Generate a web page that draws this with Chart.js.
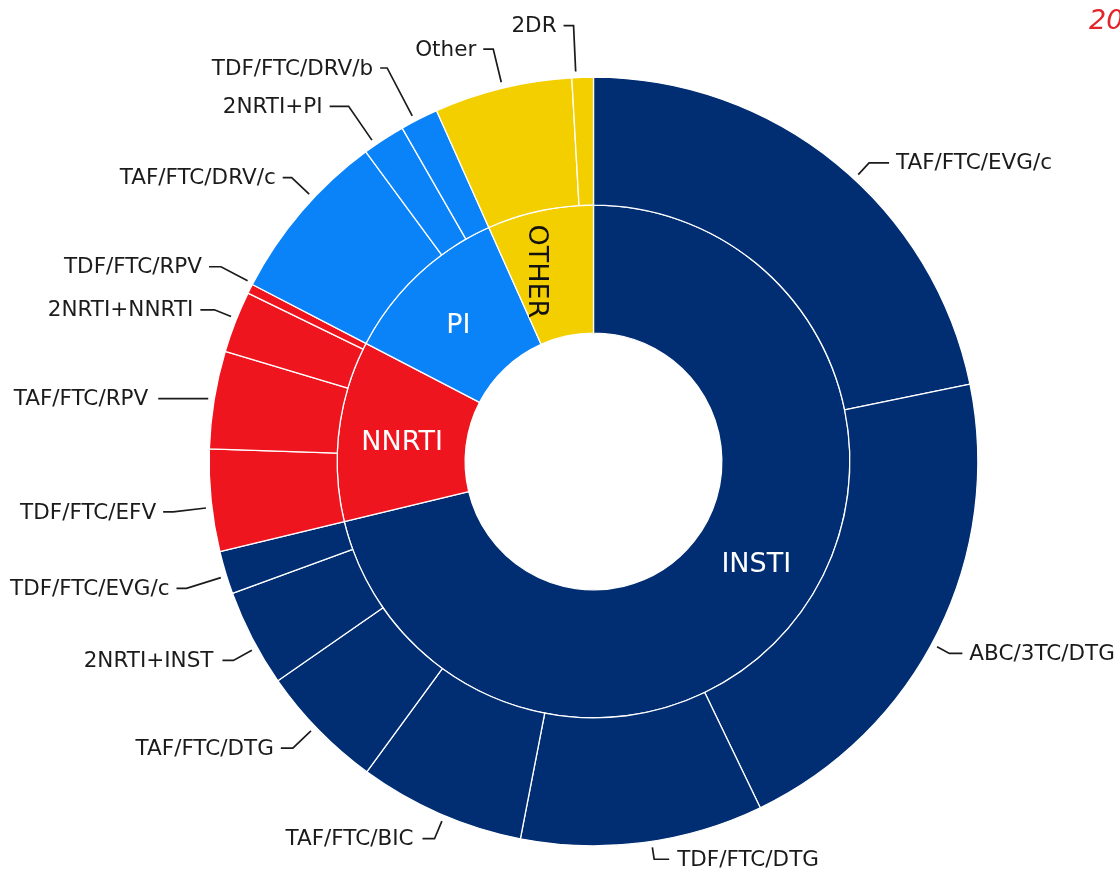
<!DOCTYPE html>
<html>
<head>
<meta charset="utf-8">
<title>Regimens sunburst</title>
<script src="https://cdn.jsdelivr.net/npm/chart.js@4/dist/chart.umd.min.js"></script>
<style>
  html, body { margin: 0; padding: 0; background: #fff; }
  #wrap { width: 1120px; height: 874px; position: relative; }
</style>
</head>
<body>
<div id="wrap"><canvas id="chart"></canvas></div>
<script>
// regimen shares (%), clockwise from 12 o'clock
const regimens = [
  'TAF/FTC/EVG/c', 'ABC/3TC/DTG', 'TDF/FTC/DTG', 'TAF/FTC/BIC', 'TAF/FTC/DTG', '2NRTI+INST', 'TDF/FTC/EVG/c',
  'TDF/FTC/EFV', 'TAF/FTC/RPV', '2NRTI+NNRTI', 'TDF/FTC/RPV',
  'TAF/FTC/DRV/c', '2NRTI+PI', 'TDF/FTC/DRV/b',
  'Other', '2DR',
];
const shares = [21.8, 21.1, 10.2, 7.0, 5.3, 4.1, 1.8, 4.3, 4.1, 2.6, 0.4, 7.3, 1.8, 1.6, 5.8, 0.9];
const regimenClass = [
  'INSTI', 'INSTI', 'INSTI', 'INSTI', 'INSTI', 'INSTI', 'INSTI',
  'NNRTI', 'NNRTI', 'NNRTI', 'NNRTI',
  'PI', 'PI', 'PI',
  'OTHER', 'OTHER',
];
const classes = ['INSTI', 'NNRTI', 'PI', 'OTHER'];
const yearLabel = '2020';

const classColors = { INSTI: '#012d72', NNRTI: '#ee151f', PI: '#0b83f8', OTHER: '#f4cf00' };
const classText = { INSTI: '#ffffff', NNRTI: '#ffffff', PI: '#ffffff', OTHER: '#111111' };

// inner ring = sum of its regimens
const classTotals = classes.map((c) =>
  shares.reduce((sum, v, i) => (regimenClass[i] === c ? sum + v : sum), 0)
);

// leader lines: [elbow distance beyond ring, angle nudge in deg, horizontal run, text gap]
const leaderSpec = [
  [22, 3.5, 20, 7], [20, 2, 13, 7], [18, -1.3, 15, 8], [25, -0.7, 12, 9], [31, 0.7, 12, 7], [27, -1.5, 11, 9], [42, -0.5, 10, 7],
  [39, -1, 10, 7], [6, 0, 50, 10], [24, 0.5, 14, 7], [36, 0.9, 12, 7],
  [30, 2.7, 9, 7], [47, -1.5, 19, 7], [60, -0.7, 7, 7],
  [40, 0, 10, 7], [52, -1, 10, 7],
];
// inner labels: [angle nudge in deg, radial shift]
const innerSpec = [[-6, 0], [-1, 0], [-1.3, 0], [-4.5, 6]];

const toRad = (d) => (d * Math.PI) / 180;

const sunburstLabels = {
  id: 'sunburstLabels',
  afterDatasetsDraw(chart) {
    const { ctx } = chart;
    const props = ['x', 'y', 'startAngle', 'endAngle', 'innerRadius', 'outerRadius'];
    ctx.save();

    // outer ring: leader line + label
    ctx.strokeStyle = '#1b1b1b';
    ctx.fillStyle = '#1b1b1b';
    ctx.lineWidth = 1.7;
    ctx.font = '21.5px "DejaVu Sans"';
    ctx.textBaseline = 'middle';
    chart.getDatasetMeta(0).data.forEach((arc, i) => {
      const { x, y, startAngle, endAngle, outerRadius } = arc.getProps(props, true);
      const [ext, nudge, run, gap] = leaderSpec[i];
      const a = (startAngle + endAngle) / 2 + toRad(nudge);
      const r0 = outerRadius + 6;
      const r1 = outerRadius + ext;
      const dir = Math.cos(a) >= 0 ? 1 : -1;
      const ex = x + Math.cos(a) * r1;
      const ey = y + Math.sin(a) * r1;
      ctx.beginPath();
      ctx.moveTo(x + Math.cos(a) * r0, y + Math.sin(a) * r0);
      ctx.lineTo(ex, ey);
      ctx.lineTo(ex + dir * run, ey);
      ctx.stroke();
      ctx.textAlign = dir > 0 ? 'left' : 'right';
      ctx.fillText(regimens[i], ex + dir * (run + gap), ey + 1);
    });

    // inner ring: class names
    ctx.font = '27px "DejaVu Sans"';
    ctx.textAlign = 'center';
    chart.getDatasetMeta(1).data.forEach((arc, i) => {
      const { x, y, startAngle, endAngle, innerRadius, outerRadius } = arc.getProps(props, true);
      const [nudge, shift] = innerSpec[i];
      const a = (startAngle + endAngle) / 2 + toRad(nudge);
      const r = (innerRadius + outerRadius) / 2 + shift;
      ctx.save();
      ctx.translate(x + Math.cos(a) * r, y + Math.sin(a) * r);
      if (classes[i] === 'OTHER') ctx.rotate(Math.PI / 2);
      ctx.fillStyle = classText[classes[i]];
      ctx.fillText(classes[i], 0, 1);
      ctx.restore();
    });

    // year, cut by the right edge as in the source
    ctx.font = 'italic 27px "DejaVu Sans"';
    ctx.fillStyle = '#e3242b';
    ctx.textAlign = 'left';
    ctx.fillText(yearLabel, 1089, 22);
    ctx.restore();
  },
};

new Chart(document.getElementById('chart'), {
  type: 'doughnut',
  data: {
    labels: regimens,
    datasets: [
      {
        data: shares,
        backgroundColor: regimenClass.map((c) => classColors[c]),
        borderColor: '#ffffff',
        borderWidth: 1.3,
      },
      {
        data: classTotals,
        backgroundColor: classes.map((c) => classColors[c]),
        borderColor: '#ffffff',
        borderWidth: 1.3,
      },
    ],
  },
  options: {
    responsive: true,
    maintainAspectRatio: false,
    animation: false,
    cutout: '33.4%',
    layout: { padding: { top: 76.5, bottom: 27.5, left: 208.5, right: 141.5 } },
    plugins: {
      legend: { display: false },
      tooltip: { enabled: false },
    },
  },
  plugins: [sunburstLabels],
});
</script>
</body>
</html>
